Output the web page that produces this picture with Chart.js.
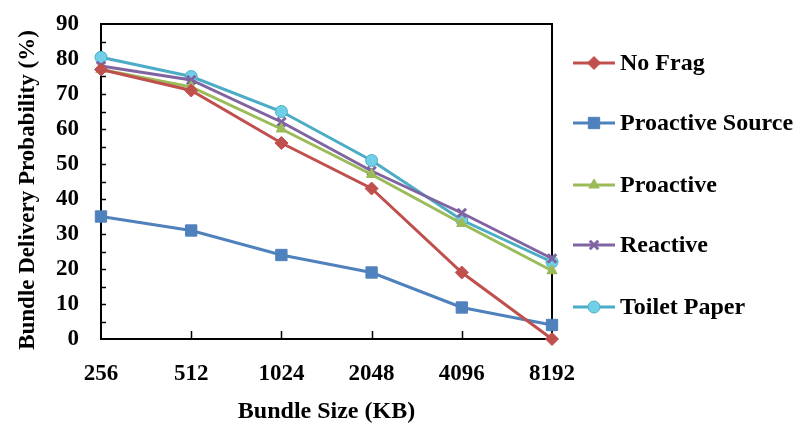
<!DOCTYPE html>
<html>
<head>
<meta charset="utf-8">
<script src="https://cdn.jsdelivr.net/npm/chart.js@4/dist/chart.umd.min.js"></script>
<style>
  html, body { margin: 0; padding: 0; background: #fff; }
  #wrap { width: 804px; height: 444px; }
</style>
</head>
<body>
<div id="wrap"><canvas id="chart" width="804" height="444"></canvas></div>
<script>
// chart data
const bundleSizes = ['256', '512', '1024', '2048', '4096', '8192'];
const noFrag = [77, 71, 56, 43, 19, 0];
const proactiveSource = [35, 31, 24, 19, 9, 4];
const proactive = [77, 72, 60, 47, 33, 19.5];
const reactive = [78, 74, 62, 48, 36, 23];
const toiletPaper = [80.5, 75, 65, 51, 34, 22];
const yTicks = [0, 10, 20, 30, 40, 50, 60, 70, 80, 90];

const FONT = '"Liberation Serif", "Times New Roman", serif';

function series(label, data, color, style, radius, fill) {
    return {
        label: label,
        data: data,
        borderColor: color,
        backgroundColor: fill || color,
        pointBackgroundColor: fill || color,
        pointBorderColor: color,
        pointStyle: style,
        pointRadius: radius,
        pointBorderWidth: style === 'crossRot' ? 3 : 1,
        borderWidth: 3,
        tension: 0,
        clip: false
    };
}

// box around plot, inward tick marks, y title
const frameAndTicks = {
    id: 'frameAndTicks',
    beforeDatasetsDraw(chart) {
        const { ctx, chartArea: a, scales } = chart;
        ctx.save();
        ctx.strokeStyle = '#000';
        ctx.lineWidth = 2;
        ctx.strokeRect(a.left, a.top, a.right - a.left, a.bottom - a.top);
        ctx.lineWidth = 1.5;
        for (let v = 5; v < 90; v += 5) {
            const y = Math.round(scales.y.getPixelForValue(v)) + 0.5;
            ctx.beginPath();
            ctx.moveTo(a.left, y);
            ctx.lineTo(a.left + 5, y);
            ctx.stroke();
        }
        for (let i = 1; i < bundleSizes.length - 1; i++) {
            const x = Math.round(scales.x.getPixelForValue(i)) + 0.5;
            ctx.beginPath();
            ctx.moveTo(x, a.bottom);
            ctx.lineTo(x, a.bottom - 8);
            ctx.stroke();
        }
        // y axis title (sits a bit below plot centre in the original)
        ctx.translate(28, 190);
        ctx.rotate(-Math.PI / 2);
        ctx.fillStyle = '#000';
        ctx.font = 'bold 23px ' + FONT;
        ctx.textAlign = 'center';
        ctx.textBaseline = 'middle';
        ctx.fillText('Bundle Delivery Probability (%)', 0, 0);
        ctx.restore();
    }
};

// legend on the right, line + marker like the original
const sideLegend = {
    id: 'sideLegend',
    afterDraw(chart) {
        const ctx = chart.ctx;
        const ys = [63, 123, 185, 245, 307];
        ctx.save();
        chart.data.datasets.forEach((ds, i) => {
            const y = ys[i];
            ctx.strokeStyle = ds.borderColor;
            ctx.lineWidth = 3;
            ctx.beginPath();
            ctx.moveTo(573, y);
            ctx.lineTo(615, y);
            ctx.stroke();
            ctx.fillStyle = ds.pointBackgroundColor;
            ctx.strokeStyle = ds.pointBorderColor;
            ctx.lineWidth = ds.pointBorderWidth;
            Chart.helpers.drawPoint(ctx, {
                pointStyle: ds.pointStyle,
                radius: ds.pointRadius,
                rotation: 0,
                borderWidth: ds.pointBorderWidth
            }, 594, y);
            ctx.fillStyle = '#000';
            ctx.font = 'bold 24px ' + FONT;
            ctx.textBaseline = 'middle';
            ctx.textAlign = 'left';
            ctx.fillText(ds.label, 620, y + 1);
        });
        ctx.restore();
    }
};

new Chart(document.getElementById('chart'), {
    type: 'line',
    data: {
        labels: bundleSizes,
        datasets: [
            series('No Frag', noFrag, '#C0504D', 'rectRot', 6.5),
            series('Proactive Source', proactiveSource, '#4F81BD', 'rect', 8),
            series('Proactive', proactive, '#9BBB59', 'triangle', 6),
            series('Reactive', reactive, '#8064A2', 'crossRot', 6),
            series('Toilet Paper', toiletPaper, '#4BACC6', 'circle', 6, '#6fd0e8')
        ]
    },
    options: {
        responsive: false,
        animation: false,
        layout: { padding: { top: 24, right: 252, left: 0, bottom: 14 } },
        plugins: {
            legend: { display: false },
            tooltip: { enabled: false }
        },
        scales: {
            x: {
                offset: false,
                grid: { display: false, drawTicks: false },
                border: { display: false },
                ticks: {
                    color: '#000',
                    padding: 21,
                    maxRotation: 0,
                    font: { family: FONT, size: 23, weight: 'bold' }
                },
                title: {
                    display: true,
                    text: 'Bundle Size (KB)',
                    color: '#000',
                    padding: { top: 12 },
                    font: { family: FONT, size: 24, weight: 'bold' }
                },
                afterFit(scale) { scale.height = 91; }
            },
            y: {
                min: 0,
                max: 90,
                afterBuildTicks(scale) {
                    scale.ticks = yTicks.map(v => ({ value: v }));
                },
                grid: { display: false, drawTicks: false },
                border: { display: false },
                ticks: {
                    color: '#000',
                    padding: 22,
                    font: { family: FONT, size: 23, weight: 'bold' }
                },
                afterFit(scale) {
                    scale.width = 101;
                    scale.paddingTop = 0;
                    scale.paddingBottom = 0;
                }
            }
        }
    },
    plugins: [frameAndTicks, sideLegend]
});
</script>
</body>
</html>
